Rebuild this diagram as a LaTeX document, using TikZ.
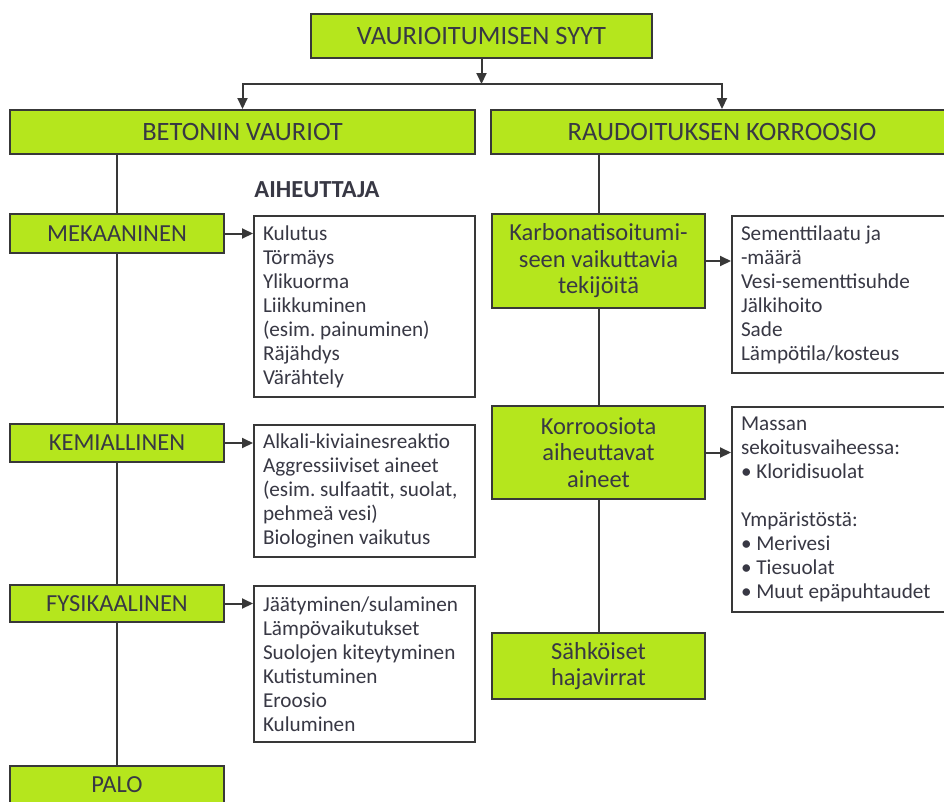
\documentclass[tikz,border=0pt]{standalone}
\usepackage{fontspec}
\setmainfont{Carlito}
\usetikzlibrary{arrows.meta}
\definecolor{gfill}{HTML}{B5E61D}
\definecolor{lineC}{HTML}{383838}
\definecolor{txtC}{HTML}{383844}
\begin{document}
\frenchspacing
\begin{tikzpicture}[x=1pt,y=-1pt,
  gbox/.style={draw=lineC, fill=gfill, line width=2pt, text=txtC, inner sep=0pt, align=flush center},
  glab/.style={font=\fontsize{26.5}{28}\selectfont},
  gsub/.style={font=\fontsize{24.5}{26.5}\selectfont},
  wbox/.style={draw=lineC, fill=white, line width=2pt, text=txtC, align=flush left, inner xsep=9pt, inner ysep=0pt, font=\frenchspacing\fontsize{21.2}{24}\selectfont},
  conn/.style={draw=lineC, line width=2pt},
  arr/.style={conn, -{Triangle[length=11pt,width=10pt]}}]
\clip (0,0) rectangle (944,801);
% green boxes
\node[gbox, glab, minimum width=341, minimum height=44] (top) at (481.5,36) {VAURIOITUMISEN SYYT};
\node[gbox, glab, minimum width=465, minimum height=44] (bet) at (242.5,132) {BETONIN VAURIOT};
\node[gbox, glab, minimum width=462, minimum height=44] (rau) at (722,132) {RAUDOITUKSEN KORROOSIO};
\node[gbox, gsub, minimum width=214, minimum height=39] (mek) at (117,233.5) {MEKAANINEN};
\node[gbox, gsub, minimum width=214, minimum height=38] (kem) at (117,443) {KEMIALLINEN};
\node[gbox, gsub, minimum width=214, minimum height=37] (fys) at (117,603.5) {FYSIKAALINEN};
\node[gbox, gsub, minimum width=214, minimum height=38] (palo) at (117,785) {PALO};
\node[gbox, gsub, minimum width=213, minimum height=94] (karb) at (598.5,261) {Karbonatisoitumi-\\seen vaikuttavia\\tekijöitä};
\node[gbox, gsub, minimum width=213, minimum height=93] (korr) at (598.5,452.5) {Korroosiota\\aiheuttavat\\aineet};
\node[gbox, gsub, minimum width=213, minimum height=66] (sahk) at (598.5,666) {Sähköiset\\hajavirrat};
% header
\node[text=txtC, font=\bfseries\fontsize{24.5}{26}\selectfont] (aih) at (317,190) {AIHEUTTAJA};
% white boxes
\node[wbox, text width=203, minimum height=181] (kul) at (364.5,306.5) {Kulutus\\Törmäys\\Ylikuorma\\Liikkuminen\\(esim. painuminen)\\Räjähdys\\Värähtely};
\node[wbox, text width=203, minimum height=132] (alk) at (364.5,491) {Alkali-kiviainesreaktio\\Aggressiiviset aineet\\(esim. sulfaatit, suolat,\\pehmeä vesi)\\Biologinen vaikutus};
\node[wbox, text width=203, minimum height=156] (jaa) at (364.5,664) {Jäätyminen/sulaminen\\Lämpövaikutukset\\Suolojen kiteytyminen\\Kutistuminen\\Eroosio\\Kuluminen};
\node[wbox, text width=208, minimum height=157] (sem) at (845,294.5) {Sementtilaatu ja\\-määrä\\Vesi-sementtisuhde\\Jälkihoito\\Sade\\Lämpötila/kosteus};
\node[wbox, text width=208, minimum height=205] (mas) at (845,509.5) {Massan\\sekoitusvaiheessa:\\• Kloridisuolat\\[24pt]Ympäristöstä:\\• Merivesi\\• Tiesuolat\\• Muut epäpuhtaudet};
% connectors
\coordinate (hub) at (481.5,84);
\draw[arr] (top) -- (hub);
\draw[arr] (hub) -| (bet.north);
\draw[arr] (hub) -| (rau.north);
\draw[conn] (mek.north |- bet.south) -- (mek.north);
\draw[conn] (mek.south) -- (kem.north);
\draw[conn] (kem.south) -- (fys.north);
\draw[conn] (fys.south) -- (palo.north);
\draw[conn] (karb.north |- rau.south) -- (karb.north);
\draw[conn] (karb.south) -- (korr.north);
\draw[conn] (korr.south) -- (sahk.north);
\draw[arr] (mek.east) -- (mek.east -| kul.west);
\draw[arr] (kem.east) -- (kem.east -| alk.west);
\draw[arr] (fys.east) -- (fys.east -| jaa.west);
\draw[arr] (karb.east) -- (karb.east -| sem.west);
\draw[arr] (korr.east) -- (korr.east -| mas.west);
\end{tikzpicture}
\end{document}
